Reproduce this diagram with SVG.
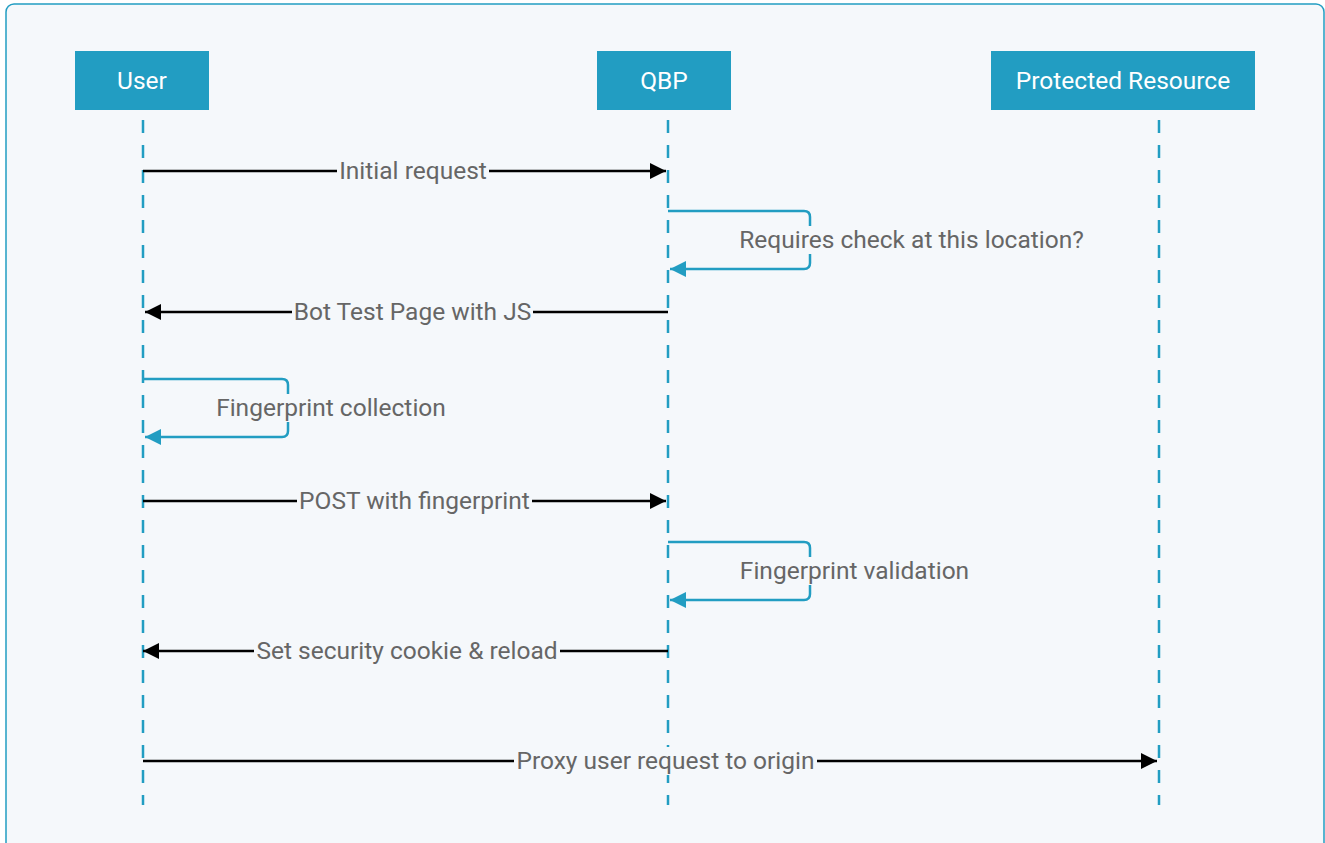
<svg xmlns="http://www.w3.org/2000/svg" width="1325" height="843" viewBox="0 0 1325 843">
<defs>
<style>
.node rect{fill:#229dc2}
.node text{fill:#ffffff;font-family:Roboto,"Liberation Sans",sans-serif;font-size:24.5px;text-anchor:middle;dominant-baseline:central}
.life{stroke:#229dc2;stroke-width:2.5;stroke-dasharray:13 12;fill:none}
.msg{stroke:#000;stroke-width:2.5;fill:none}
.self{stroke:#229dc2;stroke-width:2.5;fill:none}
.lbl{fill:#666666;font-family:Roboto,"Liberation Sans",sans-serif;font-size:24.5px;text-anchor:middle;dominant-baseline:central}
.bg{fill:#f5f8fb}
</style>
<marker id="ab" viewBox="0 0 10 10" refX="10" refY="5" markerWidth="17" markerHeight="16" markerUnits="userSpaceOnUse" orient="auto"><path d="M0,0 L10,5 L0,10 z" fill="#000"/></marker>
<marker id="at" viewBox="0 0 10 10" refX="10" refY="5" markerWidth="17" markerHeight="16" markerUnits="userSpaceOnUse" orient="auto"><path d="M0,0 L10,5 L0,10 z" fill="#229dc2"/></marker>
</defs>
<rect x="6" y="4" width="1318" height="850" rx="8" fill="#f5f8fb" stroke="#229dc2" stroke-width="1.5"/>
<g id="lifelines">
<line class="life" x1="143" y1="120" x2="143" y2="805"/>
<line class="life" x1="668" y1="120" x2="668" y2="805"/>
<line class="life" x1="1159" y1="120" x2="1159" y2="805"/>
</g>
<g id="node-user" class="node"><rect x="75" y="51" width="134" height="59"/><text x="142" y="80">User</text></g>
<g id="node-qbp" class="node"><rect x="597" y="51" width="134" height="59"/><text x="664" y="80">QBP</text></g>
<g id="node-resource" class="node"><rect x="991" y="51" width="264" height="59"/><text x="1123" y="80">Protected Resource</text></g>
<g id="connectors">
<line class="msg" x1="143" y1="171" x2="666" y2="171" marker-end="url(#ab)"/>
<path class="self" d="M668,211 H804 Q810,211 810,217 V263 Q810,269 804,269 H670" marker-end="url(#at)"/>
<line class="msg" x1="668" y1="312" x2="145" y2="312" marker-end="url(#ab)"/>
<path class="self" d="M143,379 H282 Q288,379 288,385 V431 Q288,437 282,437 H145" marker-end="url(#at)"/>
<line class="msg" x1="143" y1="501" x2="666" y2="501" marker-end="url(#ab)"/>
<path class="self" d="M668,542 H804 Q810,542 810,548 V594 Q810,600 804,600 H670" marker-end="url(#at)"/>
<line class="msg" x1="668" y1="651" x2="143" y2="651" marker-end="url(#ab)"/>
<line class="msg" x1="143" y1="761" x2="1157" y2="761" marker-end="url(#ab)"/>
</g>
<g id="labels">
<rect class="bg" x="337" y="157" width="152" height="28"/><text class="lbl" x="413" y="170">Initial request</text>
<rect class="bg" x="737" y="226" width="349" height="28"/><text class="lbl" x="911.5" y="239">Requires check at this location?</text>
<rect class="bg" x="292" y="298" width="241" height="28"/><text class="lbl" x="412.5" y="311">Bot Test Page with JS</text>
<rect class="bg" x="214" y="394" width="234" height="28"/><text class="lbl" x="331" y="407">Fingerprint collection</text>
<rect class="bg" x="297" y="487" width="235" height="28"/><text class="lbl" x="414.5" y="500">POST with fingerprint</text>
<rect class="bg" x="738" y="557" width="233" height="28"/><text class="lbl" x="854.5" y="570">Fingerprint validation</text>
<rect class="bg" x="254" y="637" width="306" height="28"/><text class="lbl" x="407" y="650">Set security cookie &amp; reload</text>
<rect class="bg" x="514" y="747" width="303" height="28"/><text class="lbl" x="665.5" y="760">Proxy user request to origin</text>
</g>
</svg>
